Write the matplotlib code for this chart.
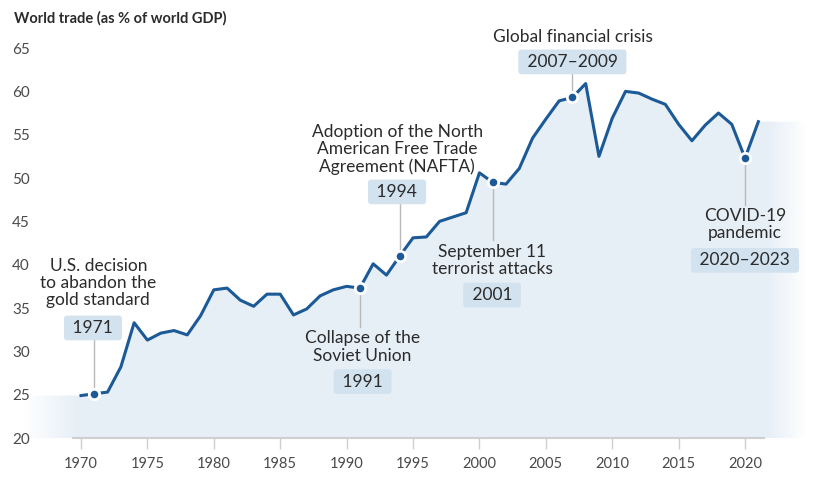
import matplotlib
matplotlib.use("Agg")
from matplotlib import pyplot as plt
from matplotlib.patches import Polygon
import numpy as np

plt.rcParams['font.family'] = ['Lato', 'DejaVu Sans']

years = list(range(1970, 2022))
trade = [24.9, 25.1, 25.3, 28.2, 33.3, 31.3, 32.1, 32.4, 31.9, 34.1,
         37.1, 37.3, 35.9, 35.2, 36.6, 36.6, 34.2, 34.9, 36.4, 37.1,
         37.5, 37.3, 40.1, 38.8, 41.0, 43.1, 43.2, 45.0, 45.5, 46.0,
         50.6, 49.5, 49.3, 51.1, 54.6, 56.8, 58.9, 59.3, 60.9, 52.5,
         56.9, 60.0, 59.8, 59.1, 58.5, 56.2, 54.3, 56.1, 57.5, 56.2,
         52.3, 56.5]

x_ticks = list(range(1970, 2021, 5))
y_ticks = list(range(20, 66, 5))

# event year, box label, description, text pos, box pos, connector end
event_years = [1971, 1991, 1994, 2001, 2007, 2020]
event_boxes = ["1971", "1991", "1994", "2001", "2007\u20132009", "2020\u20132023"]
event_texts = ["U.S. decision\nto abandon the\ngold standard",
               "Collapse of the\nSoviet Union",
               "Adoption of the North\nAmerican Free Trade\nAgreement (NAFTA)",
               "September 11\nterrorist attacks",
               "Global financial crisis",
               "COVID-19\npandemic"]
text_pos = [(1971.3, 37.9), (1991.2, 30.5), (1993.8, 53.3),
            (2000.95, 40.5), (2007.05, 66.3), (2020.0, 44.6)]
box_pos = [(1970.9, 32.7), (1991.2, 26.5), (1993.8, 48.4),
           (2000.95, 36.5), (2007.0, 63.4), (2020.0, 40.5)]
conn_end = [31.3, 32.8, 47.0, 42.85, 62.0, 46.9]

line_col = "#1b5a97"
fill_col = np.array([0.905, 0.937, 0.968])
box_col = "#d2e2ef"
txt_col = "#2b2b2b"

fig = plt.figure(figsize=(8.17, 4.96), dpi=100)
ax = fig.add_axes([0.026, 0.0907, 0.9672, 0.8212])

# shaded area with faded edges
x0, x1 = 1965.6, 2024.6
vx = [x0] + years + [x1, x1, x0]
vy = [trade[0]] + trade + [trade[-1], 20, 20]
poly = Polygon(np.column_stack([vx, vy]), closed=True, transform=ax.transData,
               facecolor="none", edgecolor="none")
ax.add_patch(poly)
gx = np.linspace(x0, x1, 600)
alpha = np.clip(np.minimum((gx - x0) / 4.2, (x1 - gx) / 3.0), 0, 1)
img = np.zeros((1, len(gx), 4))
img[..., :3] = fill_col
img[..., 3] = alpha
im = ax.imshow(img, extent=(x0, x1, 19, 67), aspect='auto', origin='lower',
               interpolation='bilinear', zorder=1)
im.set_clip_path(poly)

ax.plot(years, trade, color=line_col, lw=2.2, zorder=3)

for i, yr in enumerate(event_years):
    val = trade[years.index(yr)]
    ax.plot([yr, yr], [val, conn_end[i]], color="#b8b8b8", lw=1, zorder=2)
    ax.plot(yr, val, 'o', ms=7.5, color=line_col, mec="white", mew=2, zorder=4)
    ax.text(*text_pos[i], event_texts[i], ha='center', va='center',
            fontsize=12.5, color=txt_col, linespacing=1.1, zorder=5)
    ax.text(*box_pos[i], " " + event_boxes[i] + " ", ha='center', va='center',
            fontsize=12.5, color=txt_col, zorder=5,
            bbox=dict(boxstyle="round,pad=0.25,rounding_size=0.2",
                      fc=box_col, ec="none"))

ax.set_xlim(1965.5, 2025.0)
ax.set_ylim(18.5, 65.5)
ax.set_xticks(x_ticks)
ax.set_yticks(y_ticks)
ax.set_xticklabels([str(t) for t in x_ticks])
for s in ['top', 'right', 'left']:
    ax.spines[s].set_visible(False)
ax.spines['bottom'].set_position(('data', 20))
ax.spines['bottom'].set_bounds(1969.4, 2021.45)
ax.spines['bottom'].set_color("#cfcfcf")
ax.spines['bottom'].set_linewidth(1.5)
ax.spines['bottom'].set_zorder(2)
ax.tick_params(axis='x', direction='out', length=8, width=1, color="#cfcfcf",
               labelsize=10.5, labelcolor="#4a4a4a", pad=6)
ax.tick_params(axis='y', length=0, labelsize=11, labelcolor="#4a4a4a", pad=6.5)
for lab in ax.get_yticklabels():
    lab.set_horizontalalignment('left')
ax.patch.set_visible(False)

fig.text(14 / 817, 1 - 18 / 496, "World trade (as % of world GDP)",
         fontsize=10.5, fontweight='bold', color="#2b2b2b", va='center')

fig.savefig("out.png", dpi=100)
